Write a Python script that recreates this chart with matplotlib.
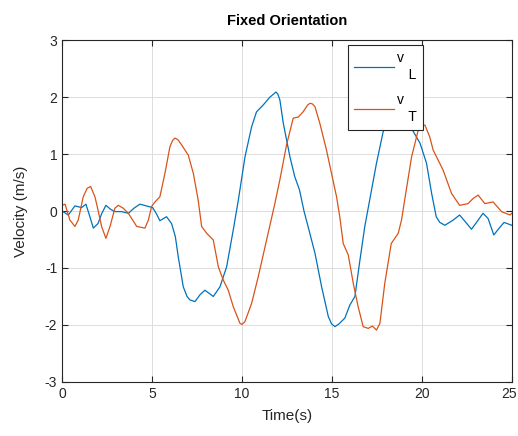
import numpy as np
import matplotlib
matplotlib.use("Agg")
import matplotlib.pyplot as plt
import matplotlib.transforms as mtransforms

plt.rcParams['font.family'] = ['Liberation Sans', 'DejaVu Sans']
plt.rcParams['axes.unicode_minus'] = False

# v_L trace
tL = [0, 0.35, 0.72, 1.09, 1.33, 1.55, 1.74, 2.0, 2.2, 2.44, 2.7, 2.94, 3.3, 3.69, 4.0, 4.33,
      4.8, 5.04, 5.25, 5.44, 5.81, 6.09, 6.3, 6.46, 6.74, 6.95, 7.11, 7.39, 7.67, 7.94, 8.2,
      8.41, 8.78, 9.15, 9.52, 9.8, 10.17, 10.54, 10.81, 11.18, 11.56, 11.75, 11.89, 12.0,
      12.11, 12.3, 12.67, 12.94, 13.2, 13.45, 13.7, 14.06, 14.43, 14.8, 14.98, 15.17, 15.4,
      15.72, 16.0, 16.28, 16.56, 16.83, 17.1, 17.48, 17.85, 18.3, 18.7, 19.1, 19.5, 19.9,
      20.26, 20.55, 20.8, 21.0, 21.28, 21.74, 22.1, 22.5, 22.76, 23.13, 23.4, 23.68, 24.0,
      24.3, 24.57, 25.0]
vL = [0.0, -0.07, 0.09, 0.06, 0.12, -0.1, -0.30, -0.22, -0.05, 0.10, 0.03, -0.01, -0.01, -0.04, 0.05, 0.12,
      0.08, 0.06, -0.05, -0.17, -0.10, -0.22, -0.45, -0.80, -1.33, -1.5, -1.56, -1.59, -1.47, -1.39, -1.45,
      -1.50, -1.33, -0.98, -0.33, 0.19, 0.95, 1.48, 1.74, 1.86, 2.0, 2.05, 2.09, 2.05,
      1.95, 1.54, 0.95, 0.6, 0.37, 0.0, -0.3, -0.74, -1.33, -1.85, -1.98, -2.03, -1.98,
      -1.88, -1.65, -1.50, -0.86, -0.27, 0.19, 0.84, 1.39, 1.7, 1.78, 1.65, 1.41, 1.19,
      0.84, 0.3, -0.1, -0.2, -0.25, -0.16, -0.07, -0.22, -0.32, -0.16, -0.04, -0.13, -0.42,
      -0.30, -0.2, -0.25]

# v_T trace
tT = [0, 0.17, 0.44, 0.72, 0.9, 1.18, 1.4, 1.59, 1.83, 2.0, 2.2, 2.44, 2.67, 2.94, 3.13, 3.4,
      3.69, 4.15, 4.61, 4.8, 4.98, 5.17, 5.44, 5.72, 6.0, 6.15, 6.28, 6.45, 6.65, 7.02, 7.3, 7.57,
      7.76, 8.04, 8.41, 8.69, 8.96, 9.24, 9.52, 9.89, 10.0, 10.17, 10.54, 10.91, 11.37, 11.83,
      12.11, 12.48, 12.85, 13.13, 13.4, 13.65, 13.78, 13.92, 14.06, 14.33, 14.7, 14.98, 15.26, 15.44,
      15.63, 15.91, 16.19, 16.46, 16.74, 17.02, 17.26, 17.48, 17.67, 17.94, 18.3, 18.69,
      18.87, 19.1, 19.43, 19.8, 20.0, 20.17, 20.44, 20.63, 21.18, 21.65, 22.1, 22.57, 22.85, 23.13,
      23.5, 23.96, 24.43, 24.9, 25.0]
vT = [0.1, 0.12, -0.16, -0.27, -0.16, 0.25, 0.4, 0.43, 0.25, 0.02, -0.27, -0.48, -0.27, 0.05, 0.1, 0.05,
      -0.04, -0.27, -0.30, -0.16, 0.08, 0.16, 0.25, 0.66, 1.13, 1.24, 1.28, 1.25, 1.16, 0.98, 0.66, 0.19,
      -0.27, -0.39, -0.51, -0.98, -1.21, -1.39, -1.68, -1.97, -1.99, -1.94, -1.62, -1.15, -0.51, 0.13,
      0.55, 1.16, 1.63, 1.65, 1.74, 1.86, 1.89, 1.88, 1.83, 1.54, 1.07, 0.66, 0.25, -0.1,
      -0.57, -0.77, -1.27, -1.68, -2.03, -2.06, -2.02, -2.09, -1.97, -1.27, -0.57, -0.39,
      -0.16, 0.3, 0.95, 1.42, 1.5, 1.51, 1.30, 1.07, 0.72, 0.31, 0.1, 0.13, 0.22, 0.28,
      0.13, 0.16, -0.01, -0.07, -0.04]

xticks = [0, 5, 10, 15, 20, 25]
yticks = [-3, -2, -1, 0, 1, 2, 3]

fig = plt.figure(figsize=(5.18, 4.36), dpi=100)
ax = fig.add_axes([0.1197, 0.124, 0.8683, 0.784])

ax.plot(tL, vL, color='#0072BD', lw=0.9, label='v\n   L')
ax.plot(tT, vT, color='#D95319', lw=0.9, label='v\n   T')

ax.set_xlim(0, 25)
ax.set_ylim(-3, 3)
ax.set_xticks(xticks)
ax.set_yticks(yticks)
ax.grid(True, color='#dcdcdc', lw=0.7)
ax.set_axisbelow(True)
ax.tick_params(direction='in', top=True, right=True, labelsize=10, colors='#262626',
               length=4, width=0.8)
for s in ax.spines.values():
    s.set_color('#262626')
    s.set_linewidth(0.8)

# nudge the last x label so it stays inside the figure
last = ax.get_xticklabels()[-1]
last.set_transform(last.get_transform() +
                   mtransforms.ScaledTranslation(-3 / 100, 0, fig.dpi_scale_trans))

ax.set_title('Fixed Orientation', fontsize=10.5, fontweight='bold', pad=11)
ax.set_xlabel('Time(s)', fontsize=11, color='#262626', labelpad=6)
ax.set_ylabel('Velocity (m/s)', fontsize=11, color='#262626', labelpad=12)

leg = ax.legend(loc='upper left', bbox_to_anchor=(0.636, 0.985), borderaxespad=0,
                fancybox=False, edgecolor='#262626', framealpha=1, fontsize=10,
                handlelength=2.85, handletextpad=0.2, labelspacing=0.85, borderpad=0.45)
leg.get_frame().set_linewidth(0.8)

fig.savefig('out.png', dpi=100)
